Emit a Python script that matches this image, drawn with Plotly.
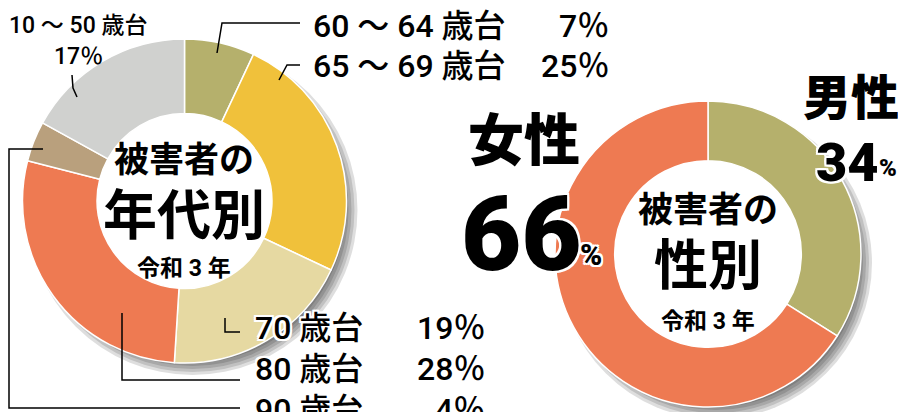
import plotly.graph_objects as go

# ---- data ----
age_labels = ["60 ～ 64 歳台", "65 ～ 69 歳台", "70 歳台", "80 歳台", "90 歳台", "10 ～ 50 歳台"]
age_values = [7, 25, 19, 28, 4, 17]
age_colors = ["#b5b06c", "#f0c13b", "#e6d9a2", "#ee7a52", "#b9a07d", "#d0d1cf"]

sex_labels = ["男性", "女性"]
sex_values = [34, 66]
sex_colors = ["#b5b06c", "#ee7a52"]

# page offset (default body margin) -> coordinates below are window pixels
OFF = 8
W, H = 906 - OFF, 412 - OFF
FONT = "Roboto, 'Noto Sans CJK JP', sans-serif"
OUTLINE = ("-2px -2px 0 #fff, 2px -2px 0 #fff, -2px 2px 0 #fff, 2px 2px 0 #fff, "
           "0 -2px 0 #fff, 0 2px 0 #fff, -2px 0 0 #fff, 2px 0 0 #fff")

fig = go.Figure()


def dom(x0, x1, y0, y1):
    return dict(x=[(x0 - OFF) / W, (x1 - OFF) / W],
                y=[1 - (y1 - OFF) / H, 1 - (y0 - OFF) / H])


L_C, L_R, L_HOLE = (184.5, 201), 162, 0.54
R_C, R_R, R_HOLE = (708, 254), 153, 0.61

fig.add_trace(go.Pie(
    labels=age_labels, values=age_values, sort=False, direction="clockwise",
    hole=L_HOLE, marker=dict(colors=age_colors, line=dict(color="white", width=1.5)),
    textinfo="none", hoverinfo="label+percent", showlegend=False,
    domain=dom(L_C[0] - L_R, L_C[0] + L_R, L_C[1] - L_R, L_C[1] + L_R),
))
fig.add_trace(go.Pie(
    labels=sex_labels, values=sex_values, sort=False, direction="clockwise",
    hole=R_HOLE, marker=dict(colors=sex_colors, line=dict(color="white", width=1.5)),
    textinfo="none", hoverinfo="label+percent", showlegend=False,
    domain=dom(R_C[0] - R_R, R_C[0] + R_R, R_C[1] - R_R, R_C[1] + R_R),
))

# invisible pixel axis for overlay
fig.update_xaxes(range=[OFF, 906], visible=False, fixedrange=True)
fig.update_yaxes(range=[412, OFF], visible=False, fixedrange=True)
fig.add_trace(go.Scatter(x=[OFF], y=[OFF], mode="markers", marker=dict(opacity=0),
                         hoverinfo="skip", showlegend=False))

shapes = []
# drop shadows + white hole
for (cx, cy), r, hole in [(L_C, L_R, L_HOLE), (R_C, R_R, R_HOLE)]:
    for dr in [-9, -6, -3, 0, 3]:
        shapes.append(dict(type="circle", xref="x", yref="y", layer="below",
                           x0=cx + 8 - r - dr, x1=cx + 8 + r + dr,
                           y0=cy + 9 - r - dr, y1=cy + 9 + r + dr,
                           fillcolor="rgba(0,0,0,0.13)", line=dict(width=0)))
    hr = r * hole + 2
    shapes.append(dict(type="circle", xref="x", yref="y", layer="below",
                       x0=cx - hr, x1=cx + hr, y0=cy - hr, y1=cy + hr,
                       fillcolor="white", line=dict(width=0)))

# leader lines
lines = [
    "M 217 53 L 222 23 L 300 23",
    "M 279 80 L 287 65 L 300 65",
    "M 72 75 L 73 88 L 77 97",
    "M 225 318 L 225 332 L 240 332",
    "M 122 313 L 122 380 L 240 380",
    "M 43 149 L 9 149 L 9 408 L 240 408",
]
for p in lines:
    shapes.append(dict(type="path", xref="x", yref="y", path=p,
                       line=dict(color="black", width=1.5)))
fig.update_layout(shapes=shapes)

ann = []


def A(x, y, text, size, weight=500, xanchor="center", shadow=None):
    f = dict(family=FONT, size=size, color="black", weight=weight)
    if shadow:
        f["shadow"] = shadow
    ann.append(dict(x=x, y=y, xref="x", yref="y", text=text, showarrow=False,
                    xanchor=xanchor, yanchor="middle", font=f))


pct = lambda v: f"{v}％"
LS = 32
A(311, 26, age_labels[0], LS, xanchor="left")
A(611, 26, pct(age_values[0]), LS, xanchor="right")
A(311, 66, age_labels[1], LS, xanchor="left")
A(611, 66, pct(age_values[1]), LS, xanchor="right")
A(253, 328, age_labels[2], LS, xanchor="left", shadow=OUTLINE)
A(487, 328, pct(age_values[2]), LS, xanchor="right")
A(253, 369, age_labels[3], LS, xanchor="left", shadow=OUTLINE)
A(487, 369, pct(age_values[3]), LS, xanchor="right")
A(253, 410, age_labels[4], LS, xanchor="left")
A(487, 410, pct(age_values[4]), LS, xanchor="right")
A(78, 25, age_labels[5], 23)
A(78, 56, pct(age_values[5]), 23)

# left centre
A(184, 160, "被害者の", 35, 700)
A(184, 216, "年代別", 54, 700)
A(184, 268, "令和 3 年", 23, 700)

# right centre
A(708, 210, "被害者の", 35, 700)
A(708, 266, "性別", 54, 700)
A(708, 321, "令和 3 年", 23, 700)

# sex labels
A(524, 141, sex_labels[1], 56, 900)
A(521, 234, str(sex_values[1]), 104, 900, shadow=OUTLINE)
A(591, 254, "%", 30, 900, shadow=OUTLINE)
A(851, 98, sex_labels[0], 48, 900)
A(847, 162, str(sex_values[0]), 54, 900, shadow=OUTLINE)
A(888, 168, "%", 24, 900, shadow=OUTLINE)

fig.update_layout(
    annotations=ann,
    width=W, height=H,
    margin=dict(l=0, r=0, t=0, b=0),
    paper_bgcolor="white", plot_bgcolor="rgba(0,0,0,0)",
    showlegend=False,
)
fig.write_html("out.html")
